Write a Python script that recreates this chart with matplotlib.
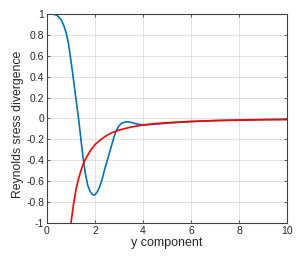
import numpy as np
import matplotlib
matplotlib.use("Agg")
import matplotlib.pyplot as plt

plt.rcParams['font.family'] = ['Liberation Sans', 'DejaVu Sans']

# blue curve
x_blue = [0, 0.2, 0.4, 0.5, 0.6, 0.7, 0.8, 0.9, 1.0, 1.1, 1.2, 1.3, 1.4, 1.5,
          1.6, 1.7, 1.8, 1.9, 2.0, 2.1, 2.2, 2.3, 2.4, 2.5, 2.6, 2.7, 2.8, 2.9,
          3.0, 3.1, 3.2, 3.3, 3.4, 3.5, 3.6, 3.8, 4.0, 4.3, 4.6, 5.0, 5.5, 6.0,
          7.0, 8.0, 9.0, 10.0]
y_blue = [1.0, 1.0, 0.99, 0.97, 0.94, 0.89, 0.82, 0.71, 0.55, 0.38, 0.20, 0.03,
          -0.17, -0.37, -0.53, -0.64, -0.70, -0.73, -0.73, -0.70, -0.65, -0.58,
          -0.49, -0.41, -0.33, -0.25, -0.17, -0.11, -0.07, -0.048, -0.037,
          -0.032, -0.032, -0.037, -0.044, -0.055, -0.06, -0.058, -0.053, -0.045,
          -0.037, -0.03, -0.02, -0.014, -0.01, -0.008]

# red curve
x_red = [1.0, 1.1, 1.2, 1.3, 1.4, 1.5, 1.6, 1.8, 2.0, 2.25, 2.5, 2.75, 3.0,
         3.5, 4.0, 4.5, 5.0, 6.0, 7.0, 8.0, 9.0, 10.0]
y_red = [-1.0, -0.83, -0.69, -0.59, -0.51, -0.44, -0.39, -0.31, -0.25, -0.2,
         -0.16, -0.132, -0.111, -0.082, -0.0625, -0.049, -0.04, -0.028, -0.02,
         -0.016, -0.012, -0.01]

xticks = [0, 2, 4, 6, 8, 10]
yticks = [-1, -0.8, -0.6, -0.4, -0.2, 0, 0.2, 0.4, 0.6, 0.8, 1]
ytick_labels = ['-1', '-0.8', '-0.6', '-0.4', '-0.2', '0', '0.2', '0.4', '0.6', '0.8', '1']

fig = plt.figure(figsize=(3.07, 2.59), dpi=100)
ax = fig.add_axes([0.153, 0.139, 0.782, 0.807])

ax.plot(x_blue, y_blue, color='#0072BD', lw=1.2)
ax.plot(x_red, y_red, color='#FF0000', lw=1.2)

ax.set_xlim(0, 10)
ax.set_ylim(-1, 1)
ax.set_xticks(xticks)
ax.set_xticklabels([str(t) for t in xticks])
ax.set_yticks(yticks)
ax.set_yticklabels(ytick_labels)

ax.grid(True, color='#dcdcdc', lw=0.6)
ax.set_axisbelow(True)
for s in ax.spines.values():
    s.set_color('#404040')
    s.set_linewidth(0.8)
ax.tick_params(direction='in', length=2.5, width=0.6, colors='#404040',
               labelcolor='#262626', labelsize=7.5, top=True, right=True, pad=2)

ax.set_xlabel('y component', fontsize=9, color='#262626', labelpad=1)
ax.set_ylabel('Reynolds sress divergence', fontsize=8.8, color='#262626', labelpad=2)
ax.yaxis.set_label_coords(-0.095, 0.47)

fig.savefig('out.png', dpi=100)
